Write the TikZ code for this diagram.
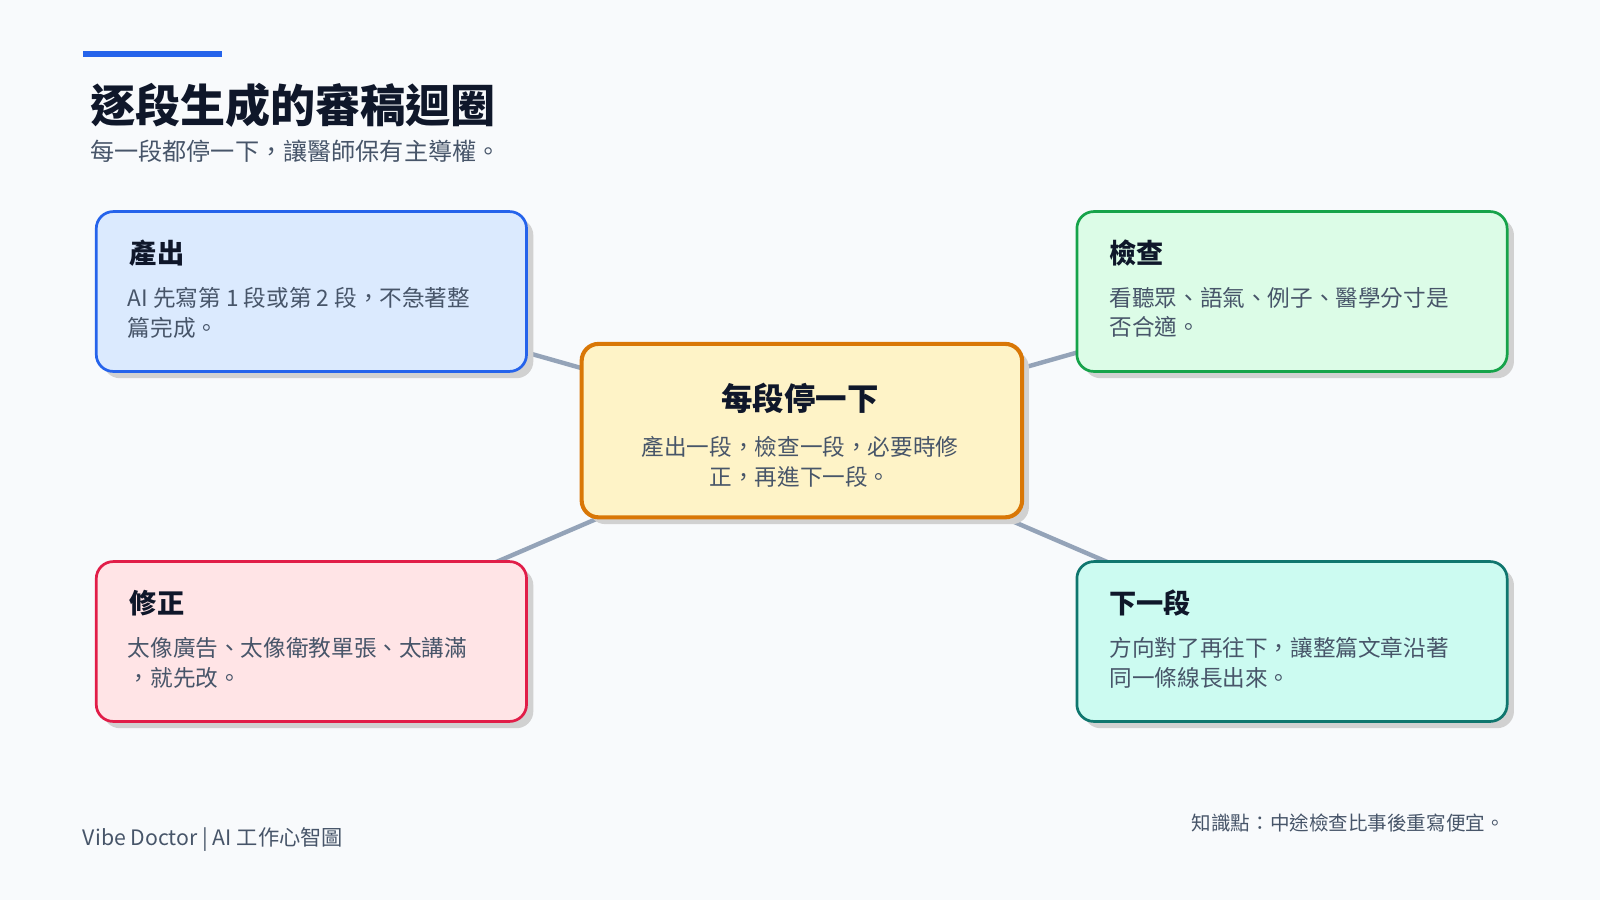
\documentclass[tikz,border=0pt]{standalone}
\usepackage{fontspec}
\setmainfont{Noto Sans CJK TC}
\usetikzlibrary{shadows}
\pgfdeclarelayer{bg}\pgfdeclarelayer{lines}
\pgfsetlayers{bg,lines,main}
\definecolor{pagebg}{HTML}{F8FAFC}
\definecolor{ink}{HTML}{0F172A}
\definecolor{sub}{HTML}{475569}
\definecolor{conn}{HTML}{94A3B8}
\definecolor{cb}{HTML}{2563EB}\definecolor{fb}{HTML}{DBEAFE}
\definecolor{cg}{HTML}{16A34A}\definecolor{fg}{HTML}{DCFCE7}
\definecolor{cr}{HTML}{E11D48}\definecolor{fr}{HTML}{FFE4E6}
\definecolor{ct}{HTML}{0F766E}\definecolor{ft}{HTML}{CCFBF1}
\definecolor{co}{HTML}{D97706}\definecolor{fo}{HTML}{FEF3C7}
\tikzset{
 card/.style={draw=#1,line width=1.6pt,rounded corners=10pt,anchor=north west,
   minimum width=253pt,minimum height=94pt,inner sep=0pt,
   drop shadow={shadow xshift=4pt,shadow yshift=-4pt,fill=black!18,opacity=1}},
 ttl/.style={anchor=west,inner sep=0pt,font=\fontsize{16}{19}\selectfont\bfseries,text=ink},
 body/.style={anchor=north west,font=\fontsize{13.3}{17.5}\selectfont,text=sub,align=left,inner sep=0pt},
 conn/.style={draw=conn,line width=2.6pt}
}
\begin{document}
\begin{tikzpicture}[x=0.6pt,y=-0.6pt]
\begin{pgfonlayer}{bg}
\fill[pagebg] (0,0) rectangle (1568,882);
\end{pgfonlayer}
\useasboundingbox (0,0) rectangle (1568,882);
\fill[cb] (81,50) rectangle (218,56);
\node[anchor=west,inner sep=0pt,font=\fontsize{26.5}{30}\selectfont\bfseries,text=ink] (title) at (88,103) {逐段生成的審稿迴圈};
\node[anchor=west,inner sep=0pt,font=\fontsize{14.2}{16}\selectfont,text=sub] (subt) at (88,148) {每一段都停一下，讓醫師保有主導權。};
\node[card=cb,fill=fb] (a) at (93,206) {};
\node[card=cg,fill=fg] (b) at (1054,206) {};
\node[card=cr,fill=fr] (c) at (93,549) {};
\node[card=ct,fill=ft] (d) at (1054,549) {};
\node[card=co,fill=fo,line width=2.4pt,minimum width=259pt,minimum height=102pt] (m) at (568,335) {};
\begin{pgfonlayer}{lines}
\draw[conn] (a.center) -- (m.center);
\draw[conn] (b.center) -- (m.center);
\draw[conn] (c.center) -- (m.center);
\draw[conn] (d.center) -- (m.center);
\end{pgfonlayer}
\node[ttl] (at) at (127,248) {產出};
\node[body] (ab) at (125,281) {AI 先寫第 1 段或第 2 段，不急著整\\篇完成。};
\node[ttl] (bt) at (1087,248) {檢查};
\node[body] (bb) at (1087,281) {看聽眾、語氣、例子、醫學分寸是\\否合適。};
\node[ttl] (ctt) at (127,591) {修正};
\node[body] (cbb) at (125,624) {太像廣告、太像衛教單張、太講滿\\，就先改。};
\node[ttl] (dt) at (1087,591) {下一段};
\node[body] (db) at (1087,624) {方向對了再往下，讓整篇文章沿著\\同一條線長出來。};
\node[font=\fontsize{18.5}{21}\selectfont\bfseries,text=ink,inner sep=0pt] (mt) at (784,390) {每段停一下};
\node[font=\fontsize{13.3}{17.5}\selectfont,text=sub,align=center,inner sep=0pt,anchor=north] (mb) at (784,427) {產出一段，檢查一段，必要時修\\正，再進下一段。};
\node[anchor=west,inner sep=0pt,font=\fontsize{12.5}{15}\selectfont,text=sub] (fl) at (81,823) {Vibe Doctor | AI 工作心智圖};
\node[anchor=east,inner sep=0pt,font=\fontsize{11.5}{14}\selectfont,text=sub] (frt) at (1475,807) {知識點：中途檢查比事後重寫便宜。};
\end{tikzpicture}
\end{document}
